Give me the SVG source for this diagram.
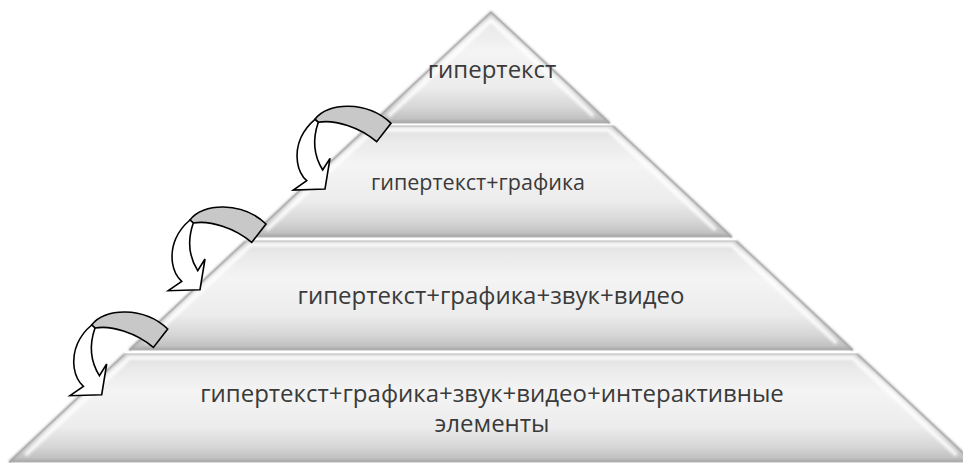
<svg xmlns="http://www.w3.org/2000/svg" width="963" height="463" viewBox="0 0 963 463">
  <defs>
    <linearGradient id="tierFill" x1="0" y1="0" x2="0" y2="1">
      <stop offset="0" stop-color="#d9d9d9"/>
      <stop offset="0.12" stop-color="#e9e9e9"/>
      <stop offset="0.35" stop-color="#f4f4f4"/>
      <stop offset="0.68" stop-color="#ececec"/>
      <stop offset="0.86" stop-color="#d6d6d6"/>
      <stop offset="0.96" stop-color="#c2c2c2"/>
      <stop offset="1" stop-color="#a4a4a4"/>
    </linearGradient>
    <filter id="soft" x="-5%" y="-5%" width="110%" height="110%">
      <feGaussianBlur stdDeviation="1.6"/>
    </filter>
    <filter id="softer" x="-5%" y="-5%" width="110%" height="110%">
      <feGaussianBlur stdDeviation="0.8"/>
    </filter>
    <g id="arrow">
      <path class="arrBack" d="M0,0 C12,-17 52,-19 76,4 L61.7,22.4 C45,8 20,0 3.3,3 Z"/>
      <path class="arrFront" d="M0,0 C-12,10 -20,25 -17.5,43 C-16,53 -12,58 -8.3,61.4 L-21.7,70.7 L10,69.7 L15,39 L7.7,50.7 C1,40 -4,24 3.3,3 Z"/>
    </g>
  </defs>
  <style>
    .tier { fill: url(#tierFill); stroke: #b5b5b5; stroke-width: 1; }
    .edge { fill: none; stroke: #a0a0a0; stroke-width: 2; filter: url(#softer); }
    .bevel { fill: none; stroke: #ffffff; stroke-width: 3.5; stroke-opacity: 0.95; filter: url(#soft); }
    .label { font-family: "Open Sans", "Liberation Sans", sans-serif; font-size: 24px; fill: #3a3a3a; text-anchor: middle; }
    .small { font-size: 21.5px; }
    .arrBack { fill: #c8c8c8; stroke: #000000; stroke-width: 1.6; stroke-linejoin: miter; }
    .arrFront { fill: #ffffff; stroke: #000000; stroke-width: 1.6; stroke-linejoin: miter; }
  </style>
  <rect x="0" y="0" width="963" height="463" fill="#ffffff"/>

  <g id="tier1">
    <polygon class="tier" points="491,12 609.9,123 372.1,123"/>
    <polyline class="edge" points="372.1,123 491,12 609.9,123"/>
    <polyline class="bevel" points="388.6,116 491,20.4 593.4,116"/>
    <text class="label" x="492" y="78">гипертекст</text>
  </g>

  <g id="tier2">
    <polygon class="tier" points="368.9,126 613.1,126 732,237 250,237"/>
    <polyline class="edge" points="250,237 368.9,126"/>
    <polyline class="edge" points="613.1,126 732,237"/>
    <polyline class="bevel" points="266.5,230 373.6,130 608.4,130 715.5,230"/>
    <text class="label small" x="478" y="190">гипертекст+графика</text>
  </g>

  <g id="tier3">
    <polygon class="tier" points="245.7,241 736.3,241 853,350 129,350"/>
    <polyline class="edge" points="129,350 245.7,241"/>
    <polyline class="edge" points="736.3,241 853,350"/>
    <polyline class="bevel" points="145.5,343 250.5,245 731.5,245 836.5,343"/>
    <text class="label" x="491" y="304">гипертекст+графика+звук+видео</text>
  </g>

  <g id="tier4">
    <polygon class="tier" points="124.7,354 857.3,354 973,462 9,462"/>
    <polyline class="edge" points="9,462 124.7,354"/>
    <polyline class="edge" points="857.3,354 973,462"/>
    <polyline class="bevel" points="25.5,455 129.4,358 852.6,358 956.5,455"/>
    <text class="label" x="492" y="402">гипертекст+графика+звук+видео+интерактивные</text>
    <text class="label" x="492" y="432">элементы</text>
  </g>

  <g id="connectors">
    <use href="#arrow" transform="translate(315,119.3)"/>
    <use href="#arrow" transform="translate(190,220)"/>
    <use href="#arrow" transform="translate(91.7,325)"/>
  </g>
</svg>
